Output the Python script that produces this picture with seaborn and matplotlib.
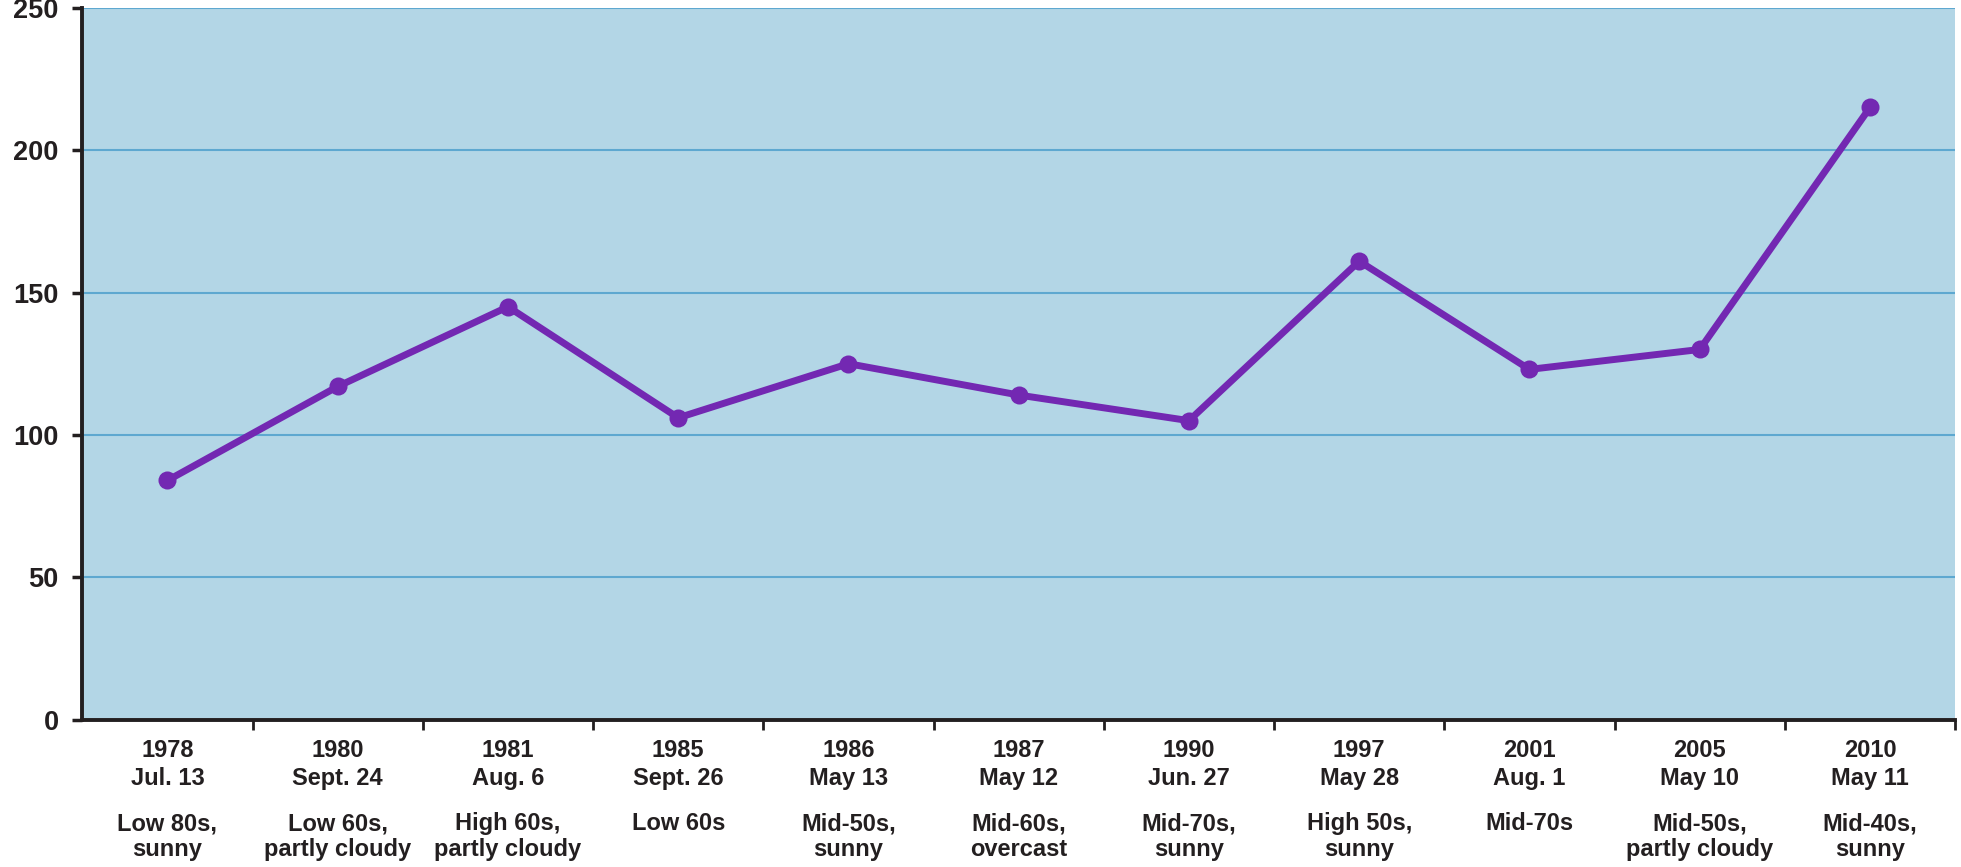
import pandas as pd
import seaborn as sns
import matplotlib
import matplotlib.pyplot as plt
from matplotlib.ticker import FixedLocator
matplotlib.use('Agg')

years = ['1978', '1980', '1981', '1985', '1986', '1987', '1990', '1997', '2001', '2005', '2010']
dates = ['Jul. 13', 'Sept. 24', 'Aug. 6', 'Sept. 26', 'May 13', 'May 12', 'Jun. 27', 'May 28', 'Aug. 1', 'May 10', 'May 11']
weather = ['Low 80s,\nsunny', 'Low 60s,\npartly cloudy', 'High 60s,\npartly cloudy', 'Low 60s',
           'Mid-50s,\nsunny', 'Mid-60s,\novercast', 'Mid-70s,\nsunny', 'High 50s,\nsunny',
           'Mid-70s', 'Mid-50s,\npartly cloudy', 'Mid-40s,\nsunny']
values = [84, 117, 145, 106, 125, 114, 105, 161, 123, 130, 215]
y_ticks = [0, 50, 100, 150, 200, 250]

sns.set_theme(style="white")
plt.rcParams['font.family'] = ['Liberation Sans', 'DejaVu Sans']
plt.rcParams['font.weight'] = 'bold'

df = pd.DataFrame({'pos': range(len(years)), 'value': values})

line_color = '#7328b2'
bg_color = '#b3d6e6'
grid_color = '#5ea8d0'
ink = '#231f20'

fig, ax = plt.subplots(figsize=(19.61, 8.67), dpi=100)
fig.subplots_adjust(left=0.042, right=0.997, top=0.991, bottom=0.17)
ax.set_facecolor(bg_color)

sns.lineplot(x='pos', y='value', data=df, ax=ax, color=line_color, linewidth=5,
             marker='o', markersize=13, markeredgewidth=0, zorder=3)

ax.set_xlim(-0.5, len(years) - 0.5)
ax.set_ylim(0, 250)
ax.set_yticks(y_ticks)
ax.set_yticklabels([str(t) for t in y_ticks], fontsize=19.5, fontweight='bold')
ax.yaxis.grid(True, color=grid_color, linewidth=1.5)
ax.set_axisbelow(True)

ax.set_xticks(range(len(years)))
ax.set_xticklabels([y + '\n' + d for y, d in zip(years, dates)], fontsize=17,
                   fontweight='bold', linespacing=1.3, color=ink)
ax.xaxis.set_minor_locator(FixedLocator([i + 0.5 for i in range(len(years))]))
ax.tick_params(axis='x', which='major', length=0, pad=14)
ax.tick_params(axis='x', which='minor', length=7, width=2, color=ink, direction='out', bottom=True)
ax.tick_params(axis='y', length=7, width=2.5, color=ink, direction='out', left=True, pad=10,
               labelcolor=ink)

for i, w in enumerate(weather):
    ax.text(i, -0.13, w, transform=ax.get_xaxis_transform(), ha='center', va='top',
            fontsize=17, fontweight='bold', linespacing=1.15, color=ink)

for side in ['top', 'right']:
    ax.spines[side].set_visible(False)
for side in ['left', 'bottom']:
    ax.spines[side].set_color(ink)
    ax.spines[side].set_linewidth(2.8)

ax.set_xlabel('')
ax.set_ylabel('')

plt.savefig('out.png', dpi=100)
